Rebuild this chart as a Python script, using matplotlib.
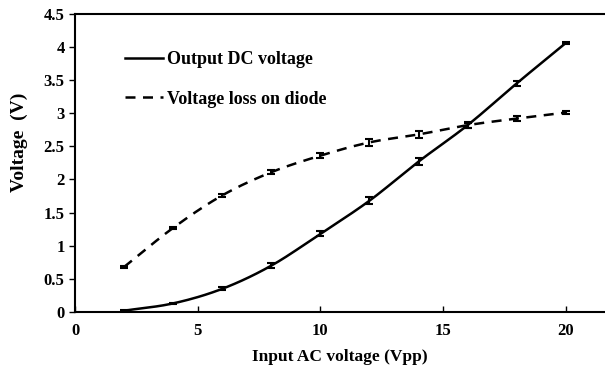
import numpy as np
import matplotlib.pyplot as plt

input_vpp = [2, 4, 6, 8, 10, 12, 14, 16, 18, 20]
dc_voltage = [0.02, 0.13, 0.35, 0.70, 1.18, 1.68, 2.27, 2.82, 3.45, 4.06]
dc_error = [0.01, 0.01, 0.02, 0.04, 0.04, 0.05, 0.05, 0.05, 0.04, 0.02]
diode_loss = [0.68, 1.27, 1.76, 2.11, 2.36, 2.56, 2.68, 2.82, 2.92, 3.01]
diode_error = [0.01, 0.02, 0.02, 0.03, 0.04, 0.05, 0.05, 0.04, 0.04, 0.02]

x_ticks = [0, 5, 10, 15, 20]
y_ticks = [0, 0.5, 1, 1.5, 2, 2.5, 3, 3.5, 4, 4.5]
y_tick_labels = ['0', '0.5', '1', '1.5', '2', '2.5', '3', '3.5', '4', '4.5']


def smooth(xs, ys, n=20):
    # catmull-rom through the points, like a smoothed spreadsheet line
    xs = np.asarray(xs, float)
    ys = np.asarray(ys, float)
    px = np.concatenate([[2 * xs[0] - xs[1]], xs, [2 * xs[-1] - xs[-2]]])
    py = np.concatenate([[2 * ys[0] - ys[1]], ys, [2 * ys[-1] - ys[-2]]])
    out_x, out_y = [], []
    t = np.linspace(0, 1, n, endpoint=False)
    for i in range(1, len(px) - 2):
        for p, out in ((px, out_x), (py, out_y)):
            p0, p1, p2, p3 = p[i - 1], p[i], p[i + 1], p[i + 2]
            out.extend(0.5 * ((2 * p1) + (-p0 + p2) * t
                              + (2 * p0 - 5 * p1 + 4 * p2 - p3) * t ** 2
                              + (-p0 + 3 * p1 - 3 * p2 + p3) * t ** 3))
    out_x.append(xs[-1])
    out_y.append(ys[-1])
    return out_x, out_y


plt.rcParams['font.family'] = 'Liberation Serif'
plt.rcParams['font.weight'] = 'bold'

fig = plt.figure(figsize=(6.05, 3.75), dpi=100)
ax = fig.add_axes([0.124, 0.168, 0.876, 0.795])

sx, sy = smooth(input_vpp, dc_voltage)
ax.plot(sx, sy, color='black', lw=1.8, label='Output DC voltage')
ax.errorbar(input_vpp, dc_voltage, yerr=dc_error, fmt='none', ecolor='black',
            elinewidth=1.5, capsize=3, capthick=1.5)

sx, sy = smooth(input_vpp, diode_loss)
ax.plot(sx, sy, color='black', lw=1.8, ls=(0, (4, 3)), label='Voltage loss on diode')
ax.errorbar(input_vpp, diode_loss, yerr=diode_error, fmt='none', ecolor='black',
            elinewidth=1.5, capsize=3, capthick=1.5)

ax.set_xlim(0, 21.6)
ax.set_ylim(0, 4.5)
ax.set_xticks(x_ticks)
ax.set_yticks(y_ticks)
ax.set_yticklabels(y_tick_labels)
ax.tick_params(axis='x', direction='in', length=4, width=1, labelsize=12, pad=8)
ax.tick_params(axis='y', direction='out', length=4, width=1, labelsize=12)
for s in ['left', 'bottom', 'top']:
    ax.spines[s].set_linewidth(1.5)
ax.spines['right'].set_visible(False)

ax.set_xlabel('Input AC voltage (Vpp)', fontsize=12.5, fontweight='bold', labelpad=7)
ax.set_ylabel('Voltage  (V)', fontsize=14, fontweight='bold')
ax.yaxis.set_label_coords(-0.088, 0.57)

ax.legend(loc='upper left', bbox_to_anchor=(0.064, 0.93), frameon=False,
          fontsize=13, handlelength=2.1, handletextpad=0.22, labelspacing=1.25)

fig.savefig('out.png', dpi=100)
